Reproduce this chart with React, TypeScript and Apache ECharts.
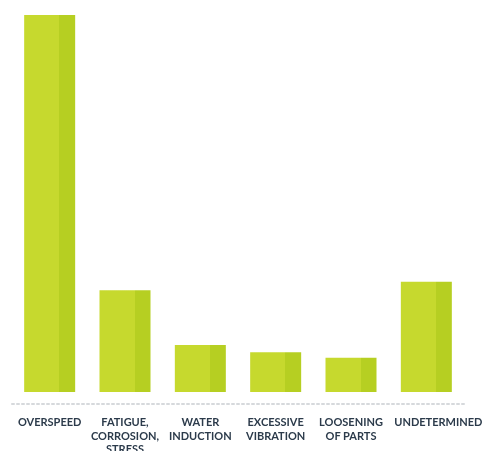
import React, { useEffect, useRef } from "react";
import * as echarts from "echarts";

const categories = [
  "OVERSPEED",
  "FATIGUE,\nCORROSION,\nSTRESS",
  "WATER\nINDUCTION",
  "EXCESSIVE\nVIBRATION",
  "LOOSENING\nOF PARTS",
  "UNDETERMINED",
];
const values = [53, 14.3, 6.6, 5.6, 4.8, 15.5];
const yMax = 53;

export default function App() {
  const ref = useRef<HTMLDivElement>(null);
  useEffect(() => {
    if (!ref.current) return;
    const chart = echarts.init(ref.current, null, { renderer: "svg" });
    chart.setOption({
      animation: false,
      grid: {
        left: 12,
        right: 28,
        top: 15,
        bottom: 59,
        containLabel: false,
        outerBoundsMode: "none",
      },
      xAxis: {
        type: "category",
        data: categories.map((c, i) =>
          i === categories.length - 1
            ? { value: c, textStyle: { padding: [0, 0, 0, 24] } }
            : c
        ),
        offset: 12,
        axisLine: {
          show: true,
          onZero: false,
          lineStyle: { color: "#d6d9dc", width: 2, type: [2, 3] },
        },
        axisTick: { show: false },
        axisLabel: {
          interval: 0,
          margin: 11,
          color: "#2c3b4b",
          fontFamily: "Lato",
          fontWeight: "bold",
          fontSize: 11,
          lineHeight: 13.5,
        },
      },
      yAxis: {
        type: "value",
        min: 0,
        max: yMax,
        show: false,
        splitLine: { show: false },
      },
      series: [
        {
          type: "bar",
          data: values,
          barWidth: 51,
          itemStyle: {
            color: new echarts.graphic.LinearGradient(0, 0, 1, 0, [
              { offset: 0, color: "#c6d92e" },
              { offset: 0.69, color: "#c6d92e" },
              { offset: 0.69, color: "#b6cf22" },
              { offset: 1, color: "#b6cf22" },
            ]),
          },
        },
      ],
    });
    return () => chart.dispose();
  }, []);
  return (
    <div
      ref={ref}
      style={{ position: "fixed", left: 0, top: 0, width: 492, height: 451 }}
    />
  );
}
